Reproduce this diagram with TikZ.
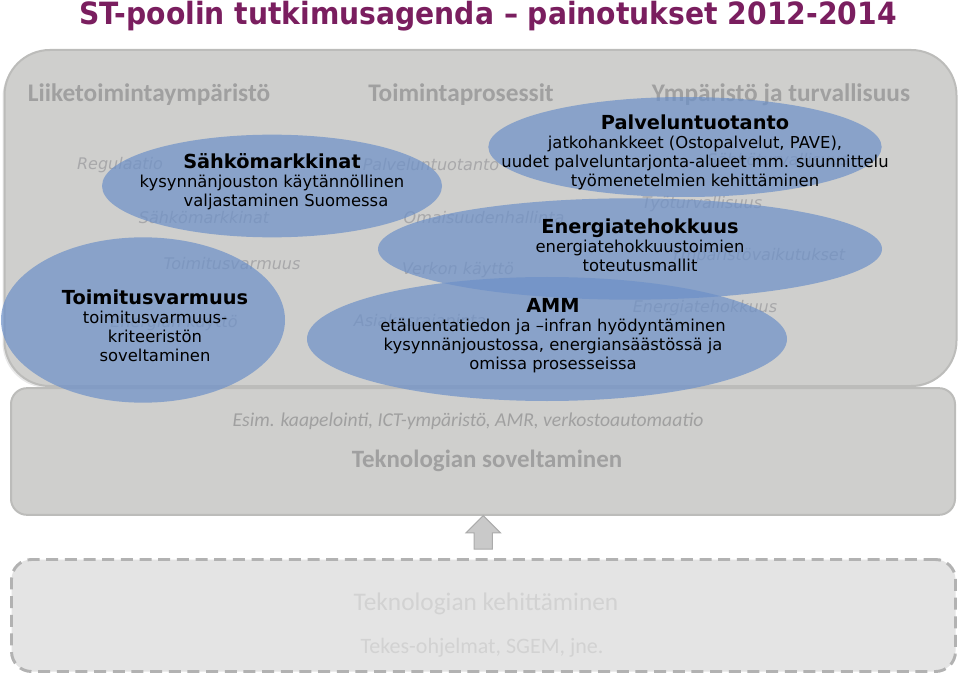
\documentclass[tikz,border=0pt]{standalone}
\usepackage{fontspec}
\setmainfont{DejaVu Sans}
\newfontfamily\calibri{Carlito}
\usetikzlibrary{shapes.geometric,shapes.arrows,shadows,calc}

\definecolor{titlepurple}{RGB}{122,30,95}
\definecolor{boxgray}{RGB}{207,207,205}
\definecolor{edgegray}{RGB}{188,188,186}
\definecolor{headgray}{RGB}{160,160,160}
\definecolor{faintgray}{RGB}{168,168,170}
\definecolor{ovalblue}{RGB}{110,145,200}
\definecolor{devgray}{RGB}{228,228,228}
\definecolor{dashgray}{RGB}{178,178,178}
\definecolor{embossgray}{RGB}{210,210,210}
\newcommand\ovalheadfont{\bfseries\fontsize{14.5}{17}\selectfont}

\begin{document}
\begin{tikzpicture}[x=0.75pt, y=-0.75pt, line width=0.3mm,
    colhead/.style={font=\calibri\bfseries\fontsize{19}{21}\selectfont, text=headgray},
    faint/.style={font=\itshape\fontsize{12}{14}\selectfont, text=faintgray},
    oval/.style={ellipse, fill=ovalblue, fill opacity=0.72, inner sep=0pt},
    ovaltext/.style={align=center, font=\fontsize{12.3}{14.3}\selectfont},
    graybox/.style={draw=edgegray, line width=1.5pt, fill=boxgray},
    tech/.style={font=\calibri\fontsize{16.5}{18}\selectfont, text=headgray}]

  \useasboundingbox (0,0) rectangle (960,677);

  % title
  \node (title) at (488,16)
    {\scalebox{0.92}[1]{\color{titlepurple}\bfseries\fontsize{23}{26}\selectfont
     ST-poolin tutkimusagenda – painotukset 2012-2014}};

  % boxes
  \node[graybox, rounded corners=34pt, minimum width=714pt, minimum height=252pt,
        drop shadow={opacity=0.18, shadow xshift=-1.5pt, shadow yshift=-1.5pt}]
        (agenda) at (480.5,218) {};
  \node[graybox, rounded corners=12pt, minimum width=708pt, minimum height=95pt]
        (soveltaminen) at (483,451.5) {};
  \node[draw=dashgray, line width=2.2pt, dash pattern=on 9pt off 5pt, fill=devgray,
        rounded corners=15pt, minimum width=708pt, minimum height=84pt]
        (kehittaminen) at (483.5,615.5) {};
  \node[single arrow, shape border rotate=90, draw=black!33, fill=black!21,
        line width=0.8pt, inner sep=6.4pt, minimum height=25pt,
        single arrow head extend=6pt]
        (nosto) at ($(soveltaminen.south)!0.5!(kehittaminen.north)$) {};

  % column headers
  \node[colhead] (liike) at (149,95) {Liiketoimintaympäristö};
  \node[colhead] (prosessit) at (461,95) {Toimintaprosessit};
  \node[colhead] (ympa) at (781,95) {Ympäristö ja turvallisuus};

  % themes under the ovals
  \node[faint] (regulaatio) at (120,165) {Regulaatio};
  \node[faint] (sahkom) at (204,218) {Sähkömarkkinat};
  \node[faint] (toimv) at (232,264) {Toimitusvarmuus};
  \node[faint] (energiak) at (174,323) {Energian käyttö};
  \node[faint] (palvelu) at (431,165) {Palveluntuotanto};
  \node[faint] (omaisuus) at (484,218) {Omaisuudenhallinta};
  \node[faint] (verkko) at (458,270) {Verkon käyttö};
  \node[faint] (asiakas) at (420,322) {Asiakasrajapinta};
  \node[faint] (sahkot) at (778,160) {Sähköturvallisuus};
  \node[faint] (tyoturv) at (702,204) {Työturvallisuus};
  \node[faint] (ymparv) at (758,256) {Ympäristövaikutukset};
  \node[faint] (energiat) at (705,308) {Energiatehokkuus};

  % ovals
  \node[oval, minimum width=255pt, minimum height=77pt] (o-sahko) at (272,186) {};
  \node[oval, minimum width=213pt, minimum height=124pt] (o-toim) at (143,320) {};
  \node[oval, minimum width=295pt, minimum height=75pt] (o-palv) at (685,147) {};
  \node[oval, minimum width=378pt, minimum height=76pt] (o-ener) at (630,249) {};
  \node[oval, minimum width=360pt, minimum height=93pt] (o-amm) at (547,339) {};

  % oval texts
  \node[ovaltext] (t-sahko) at (272,182)
    {{\ovalheadfont Sähkömarkkinat}\\kysynnänjouston käytännöllinen\\\hspace*{21pt}valjastaminen Suomessa};
  \node[ovaltext] (t-toim) at (155,326)
    {{\ovalheadfont Toimitusvarmuus}\\toimitusvarmuus-\\kriteeristön\\soveltaminen};
  \node[ovaltext] (t-palv) at (695,152)
    {{\ovalheadfont Palveluntuotanto}\\jatkohankkeet (Ostopalvelut, PAVE),\\uudet palveluntarjonta-alueet mm. suunnittelu\\työmenetelmien kehittäminen};
  \node[ovaltext] (t-ener) at (640,245)
    {{\ovalheadfont Energiatehokkuus}\\energiatehokkuustoimien\\toteutusmallit};
  \node[ovaltext] (t-amm) at (553,336)
    {{\ovalheadfont AMM}\\etäluentatiedon ja –infran hyödyntäminen\\kysynnänjoustossa, energiansäästössä ja\\omissa prosesseissa};

  % technology boxes
  \node[tech, font=\calibri\itshape\fontsize{14.7}{16}\selectfont] (esim) at (468,421)
    {Esim. kaapelointi, ICT-ympäristö, AMR, verkostoautomaatio};
  \node[tech, font=\calibri\bfseries\fontsize{18.7}{20}\selectfont] (sovel) at (487,461)
    {Teknologian soveltaminen};
  \node[tech, text=embossgray, font=\calibri\fontsize{19}{21}\selectfont] (kehit) at (486,604)
    {Teknologian kehittäminen};
  \node[tech, text=embossgray] (tekes) at (482,648) {Tekes-ohjelmat, SGEM, jne.};
\end{tikzpicture}
\end{document}
